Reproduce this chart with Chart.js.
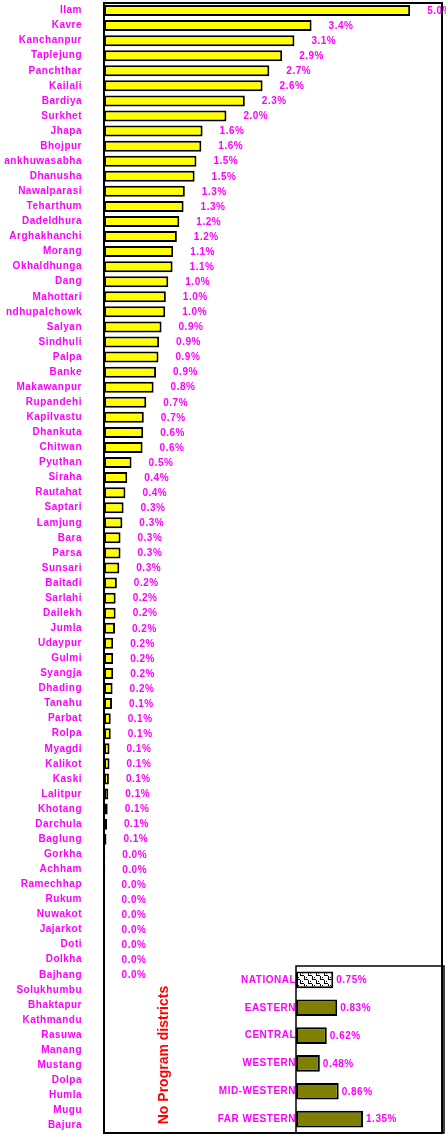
<!DOCTYPE html>
<html><head><meta charset="utf-8">
<script src="https://cdn.jsdelivr.net/npm/chart.js@4/dist/chart.umd.min.js"></script>
<style>
html,body{margin:0;padding:0;background:#fff;overflow:hidden;}
#wrap{position:relative;width:446px;height:1134px;background:#fff;}
#main{position:absolute;left:0;top:0;}
#inset{position:absolute;left:200px;top:960px;}
</style></head><body>
<div id="wrap">
<canvas id="main" width="446" height="1134"></canvas>
<canvas id="inset" width="246" height="174"></canvas>
</div>
<script>
// ---- Data ----
const districts = ['Ilam','Kavre','Kanchanpur','Taplejung','Panchthar','Kailali','Bardiya','Surkhet',
  'Jhapa','Bhojpur','ankhuwasabha','Dhanusha','Nawalparasi','Teharthum','Dadeldhura','Arghakhanchi',
  'Morang','Okhaldhunga','Dang','Mahottari','ndhupalchowk','Salyan','Sindhuli','Palpa','Banke',
  'Makawanpur','Rupandehi','Kapilvastu','Dhankuta','Chitwan','Pyuthan','Siraha','Rautahat','Saptari',
  'Lamjung','Bara','Parsa','Sunsari','Baitadi','Sarlahi','Dailekh','Jumla','Udaypur','Gulmi','Syangja',
  'Dhading','Tanahu','Parbat','Rolpa','Myagdi','Kalikot','Kaski','Lalitpur','Khotang','Darchula',
  'Baglung','Gorkha','Achham','Ramechhap','Rukum','Nuwakot','Jajarkot','Doti','Dolkha','Bajhang',
  'Solukhumbu','Bhaktapur','Kathmandu','Rasuwa','Manang','Mustang','Dolpa','Humla','Mugu','Bajura'];
const districtValues = [5.00,3.39,3.11,2.91,2.70,2.59,2.30,2.00,
  1.61,1.59,1.51,1.48,1.32,1.30,1.23,1.19,
  1.13,1.12,1.05,1.01,1.00,0.94,0.90,0.89,0.85,
  0.81,0.69,0.65,0.64,0.63,0.45,0.38,0.35,0.32,
  0.30,0.27,0.27,0.25,0.21,0.19,0.19,0.18,0.15,0.15,0.15,
  0.14,0.13,0.11,0.11,0.09,0.09,0.08,0.07,0.06,0.05,
  0.04,0.02,0.02,0.01,0.01,0.01,0.01,0.01,0.01,0.01,
  null,null,null,null,null,null,null,null,null,null];
const districtLabels = ['5.0%','3.4%','3.1%','2.9%','2.7%','2.6%','2.3%','2.0%',
  '1.6%','1.6%','1.5%','1.5%','1.3%','1.3%','1.2%','1.2%',
  '1.1%','1.1%','1.0%','1.0%','1.0%','0.9%','0.9%','0.9%','0.9%',
  '0.8%','0.7%','0.7%','0.6%','0.6%','0.5%','0.4%','0.4%','0.3%',
  '0.3%','0.3%','0.3%','0.3%','0.2%','0.2%','0.2%','0.2%','0.2%','0.2%','0.2%',
  '0.2%','0.1%','0.1%','0.1%','0.1%','0.1%','0.1%','0.1%','0.1%','0.1%',
  '0.1%','0.0%','0.0%','0.0%','0.0%','0.0%','0.0%','0.0%','0.0%','0.0%',
  '','','','','','','','','',''];
const regions = ['NATIONAL','EASTERN','CENTRAL','WESTERN','MID-WESTERN','FAR WESTERN'];
const regionValues = [0.75,0.83,0.62,0.48,0.86,1.35];
const regionLabels = ['0.75%','0.83%','0.62%','0.48%','0.86%','1.35%'];
const noProgramNote = 'No Program districts';

// ---- Styles ----
const MAGENTA = '#FF00FF';
const FONT = '"Liberation Sans", Arial, sans-serif';
Chart.defaults.font.family = FONT;

const spacingPlugin = {
  id: 'spacing',
  beforeDraw(chart, args, opts) { chart.ctx.letterSpacing = opts.ls || '0px'; }
};

const mainDecor = {
  id: 'mainDecor',
  afterDatasetsDraw(chart) {
    const ctx = chart.ctx;
    const meta = chart.getDatasetMeta(0);
    ctx.save();
    ctx.letterSpacing = '0.5px';
    ctx.font = 'bold 10px ' + FONT;
    ctx.fillStyle = MAGENTA;
    ctx.textAlign = 'left';
    ctx.textBaseline = 'middle';
    meta.data.forEach((bar, i) => {
      const t = districtLabels[i];
      if (!t) return;
      ctx.fillText(t, bar.x + 17, bar.y + 0.5);
    });
    ctx.restore();
  },
  afterDraw(chart) {
    const ctx = chart.ctx, a = chart.chartArea;
    ctx.save();
    ctx.strokeStyle = '#000';
    ctx.lineWidth = 2;
    ctx.strokeRect(a.left, a.top, a.right - a.left, a.bottom - a.top);
    // note
    ctx.letterSpacing = '0px';
    ctx.translate(164.5, 1055);
    ctx.rotate(-Math.PI / 2);
    ctx.fillStyle = '#FF0000';
    ctx.font = 'bold 14px ' + FONT;
    ctx.textAlign = 'center';
    ctx.textBaseline = 'middle';
    ctx.fillText(noProgramNote, 0, 0);
    ctx.restore();
  }
};

new Chart(document.getElementById('main'), {
  type: 'bar',
  data: {
    labels: districts,
    datasets: [{
      data: districtValues,
      backgroundColor: '#FFFF00',
      borderColor: '#000',
      borderWidth: 2,
      borderSkipped: false,
      barPercentage: 0.73,
      categoryPercentage: 1
    }]
  },
  options: {
    indexAxis: 'y',
    responsive: false,
    animation: false,
    devicePixelRatio: 1,
    layout: { padding: { left: 0, right: 4, top: 3, bottom: 1 } },
    plugins: { legend: { display: false }, tooltip: { enabled: false }, spacing: { ls: '0.5px' } },
    scales: {
      x: { display: false, min: 0, max: 5.52 },
      y: {
        grid: { display: false, drawTicks: false },
        border: { display: false },
        ticks: { autoSkip: false, color: MAGENTA, padding: 22, font: { size: 10, weight: 'bold' } },
        afterFit(s) { s.width = 104; s.paddingTop = 0; s.paddingBottom = 0; }
      }
    }
  },
  plugins: [spacingPlugin, mainDecor]
});

// ---- Inset ----
function makePattern() {
  const c = document.createElement('canvas');
  c.width = 8; c.height = 8;
  const p = c.getContext('2d');
  p.fillStyle = '#fff'; p.fillRect(0, 0, 8, 8);
  p.fillStyle = '#000';
  p.fillRect(0, 0, 1, 4); p.fillRect(0, 3, 4, 1);
  p.fillRect(4, 4, 1, 4); p.fillRect(4, 7, 4, 1);
  p.fillRect(2, 1, 1, 1); p.fillRect(6, 5, 1, 1);
  return p.createPattern(c, 'repeat');
}
const insetCtx = document.getElementById('inset').getContext('2d');
const pat = makePattern();

const insetDecor = {
  id: 'insetDecor',
  afterDatasetsDraw(chart) {
    const ctx = chart.ctx;
    const meta = chart.getDatasetMeta(0);
    ctx.save();
    ctx.letterSpacing = '0.5px';
    ctx.font = 'bold 10px ' + FONT;
    ctx.fillStyle = MAGENTA;
    ctx.textAlign = 'left';
    ctx.textBaseline = 'middle';
    meta.data.forEach((bar, i) => ctx.fillText(regionLabels[i], bar.x + 3, bar.y + 0.5));
    ctx.restore();
  },
  afterDraw(chart) {
    const ctx = chart.ctx, a = chart.chartArea;
    ctx.save();
    ctx.strokeStyle = '#000';
    ctx.lineWidth = 1.5;
    ctx.strokeRect(a.left, a.top, a.right - a.left, a.bottom - a.top);
    ctx.restore();
  }
};

new Chart(insetCtx, {
  type: 'bar',
  data: {
    labels: regions,
    datasets: [{
      data: regionValues,
      backgroundColor: [pat, '#808000', '#808000', '#808000', '#808000', '#808000'],
      borderColor: '#000',
      borderWidth: 2,
      borderSkipped: false,
      barPercentage: 0.6,
      categoryPercentage: 1
    }]
  },
  options: {
    indexAxis: 'y',
    responsive: false,
    animation: false,
    devicePixelRatio: 1,
    layout: { padding: { left: 0, right: 2, top: 6, bottom: 1 } },
    plugins: { legend: { display: false }, tooltip: { enabled: false }, spacing: { ls: '0.5px' } },
    scales: {
      x: { display: false, min: 0, max: 2.98 },
      y: {
        grid: { display: false, drawTicks: false },
        border: { display: false },
        ticks: { autoSkip: false, color: MAGENTA, padding: 0, font: { size: 10, weight: 'bold' } },
        afterFit(s) { s.width = 96; s.paddingTop = 0; s.paddingBottom = 0; }
      }
    }
  },
  plugins: [spacingPlugin, insetDecor]
});
</script>
</body></html>
